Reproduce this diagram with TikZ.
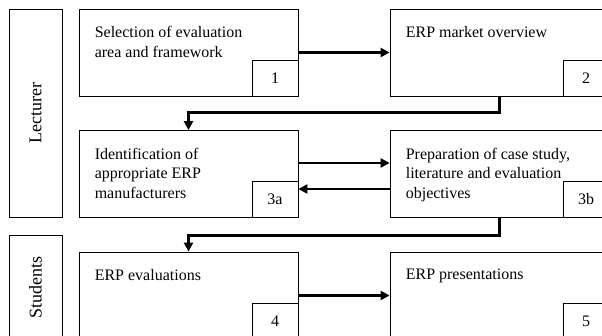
\documentclass[tikz,border=0pt]{standalone}
\usepackage{fontspec}
\setmainfont{Liberation Serif}
\usetikzlibrary{arrows.meta}
\tikzset{
  lane/.style={draw,line width=0.8pt,inner sep=0pt,rotate=90,font=\fontsize{18}{21}\selectfont},
  stage/.style={draw,line width=0.8pt,minimum width=219pt,minimum height=87pt,inner sep=0pt},
  stagetext/.style={anchor=north west,align=left,inner sep=0pt,font=\fontsize{16}{19.5}\selectfont},
  stepno/.style={draw,line width=0.8pt,minimum width=46pt,minimum height=36pt,inner sep=0pt,anchor=south east,font=\fontsize{16}{19.5}\selectfont},
  flow/.style={line width=2.8pt,-{Triangle[length=9pt,width=9pt]}}
}
\begin{document}
\begin{tikzpicture}[x=1pt,y=-1pt]
\useasboundingbox (0,0) rectangle (602,336);
\clip (0,0) rectangle (602,336);
% roles
\node[lane,minimum width=208pt,minimum height=53pt] (lect) at (35.5,113) {Lecturer};
\node[lane,minimum width=105pt,minimum height=53pt] (stud) at (35.5,287.5) {Students};
% stages
\node[stage] (s1) at (188.5,52.5) {};
\node[stage] (s2) at (499.5,52.5) {};
\node[stage] (s3a) at (188.5,174) {};
\node[stage] (s3b) at (499.5,174) {};
\node[stage] (s4) at (188.5,295.5) {};
\node[stage] (s5) at (499.5,295.5) {};
\node[stagetext] (t1) at ([shift={(16,17.5)}]s1.north west) {Selection of evaluation\\area and framework};
\node[stagetext] (t2) at ([shift={(16,17.5)}]s2.north west) {ERP market overview};
\node[stagetext] (t3a) at ([shift={(16,17.5)}]s3a.north west) {Identification of\\appropriate ERP\\manufacturers};
\node[stagetext] (t3b) at ([shift={(16,17.5)}]s3b.north west) {Preparation of case study,\\literature and evaluation\\objectives};
\node[stagetext] (t4) at ([shift={(16,17.5)}]s4.north west) {ERP evaluations};
\node[stagetext] (t5) at ([shift={(16,17.5)}]s5.north west) {ERP presentations};
% step numbers
\node[stepno] (n1) at (s1.south east) {1};
\node[stepno] (n2) at (s2.south east) {2};
\node[stepno] (n3a) at (s3a.south east) {3a};
\node[stepno] (n3b) at (s3b.south east) {3b};
\node[stepno] (n4) at (s4.south east) {4};
\node[stepno] (n5) at (s5.south east) {5};
% flow
\draw[flow] (s1) -- (s2);
\draw[flow] (s2.south) -- ++(0,16) -| (s3a.north);
\draw[flow] ([yshift=11pt]s3a.east) -- ([yshift=11pt]s3b.west);
\draw[flow] ([yshift=-15pt]s3b.west) -- ([yshift=-15pt]s3a.east);
\draw[flow] (s3b.south) -- ++(0,18) -| (s4.north);
\draw[flow] (s4) -- (s5);
\end{tikzpicture}
\end{document}
